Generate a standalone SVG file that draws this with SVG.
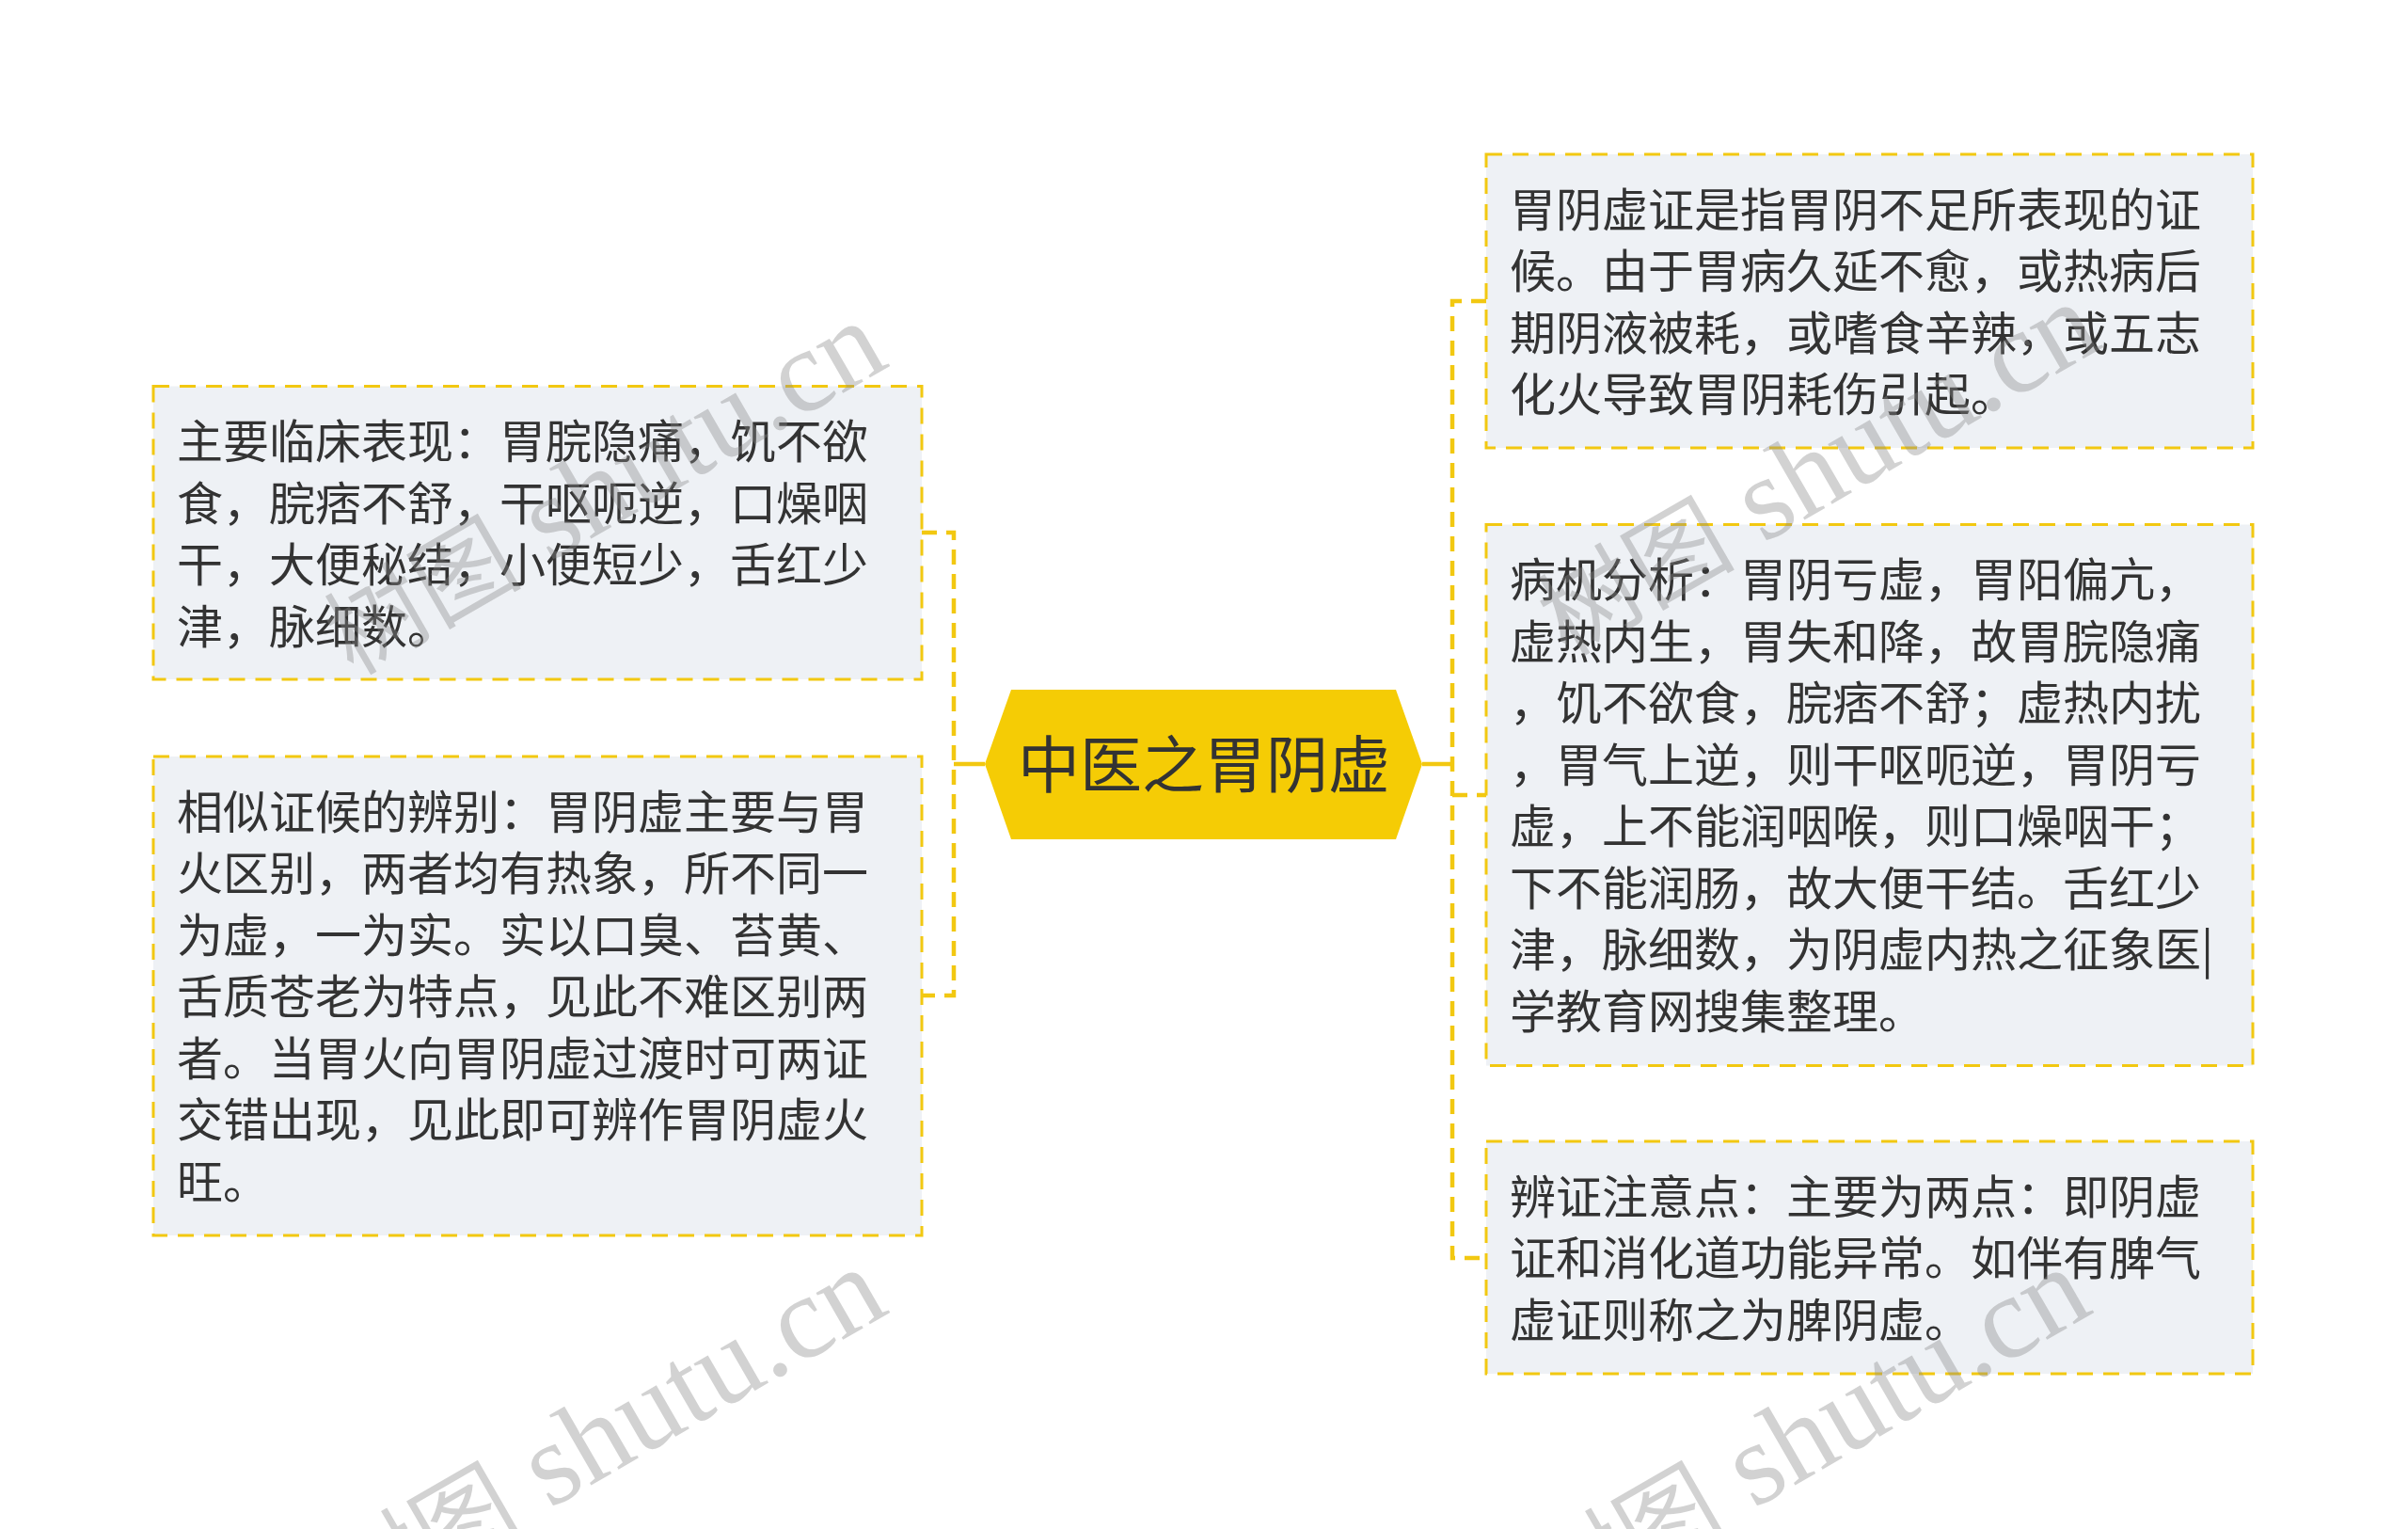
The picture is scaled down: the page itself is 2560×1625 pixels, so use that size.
<svg xmlns="http://www.w3.org/2000/svg" width="2560" height="1625" viewBox="0 0 2560 1625">
<style>
.bg{fill:#ffffff}
.box{fill:#eef1f5;stroke:#f2c811;stroke-width:3;stroke-dasharray:17 11}
.txt{font-family:"Noto Sans CJK SC","Noto Sans",sans-serif;font-size:49px;fill:#333333}
.main{fill:#f5cc05}
.maintxt{font-family:"Noto Sans CJK SC","Noto Sans",sans-serif;font-size:66px;fill:#333333;text-anchor:middle}
.solid{fill:none;stroke:#f2c811;stroke-width:4.5}
.dash{fill:none;stroke:#f2c811;stroke-width:4.5;stroke-dasharray:16 10}
.wm{font-family:"Liberation Serif","Noto Sans CJK SC",serif;font-size:125px;fill:#8a8a8a;fill-opacity:0.38;text-anchor:end}
.wmc{font-size:105px}
</style>
<rect class="bg" x="0" y="0" width="2560" height="1625"/>
<g id="connectors">
<path class="solid" d="M1047,812 H1014"/>
<path class="dash" d="M980,566 H1014 V1058 H980"/>
<path class="solid" d="M1512,812 H1544"/>
<path class="dash" d="M1580,320 H1544 V1337 H1580"/>
<path class="dash" d="M1544,845 H1580"/>
</g>
<g id="center">
<polygon class="main" points="1047,812 1075,733 1484,733 1512,812 1484,892 1075,892"/>
<text class="maintxt" x="1280" y="837">中医之胃阴虚</text>
</g>
<g id="node-left-1">
<rect class="box" x="163" y="410.5" width="817" height="311.5"/>
<text class="txt" x="188" y="487"><tspan x="188">主要临床表现：胃脘隐痛，饥不欲</tspan><tspan x="188" dy="65.5">食，脘痞不舒，干呕呃逆，口燥咽</tspan><tspan x="188" dy="65.5">干，大便秘结，小便短少，舌红少</tspan><tspan x="188" dy="65.5">津，脉细数。</tspan></text>
</g>
<g id="node-left-2">
<rect class="box" x="163" y="804" width="817" height="509"/>
<text class="txt" x="188" y="880.5"><tspan x="188">相似证候的辨别：胃阴虚主要与胃</tspan><tspan x="188" dy="65.5">火区别，两者均有热象，所不同一</tspan><tspan x="188" dy="65.5">为虚，一为实。实以口臭、苔黄、</tspan><tspan x="188" dy="65.5">舌质苍老为特点，见此不难区别两</tspan><tspan x="188" dy="65.5">者。当胃火向胃阴虚过渡时可两证</tspan><tspan x="188" dy="65.5">交错出现，见此即可辨作胃阴虚火</tspan><tspan x="188" dy="65.5">旺。</tspan></text>
</g>
<g id="node-right-1">
<rect class="box" x="1580" y="164" width="815" height="312"/>
<text class="txt" x="1605" y="240.5"><tspan x="1605">胃阴虚证是指胃阴不足所表现的证</tspan><tspan x="1605" dy="65.5">候。由于胃病久延不愈，或热病后</tspan><tspan x="1605" dy="65.5">期阴液被耗，或嗜食辛辣，或五志</tspan><tspan x="1605" dy="65.5">化火导致胃阴耗伤引起。</tspan></text>
</g>
<g id="node-right-2">
<rect class="box" x="1580" y="557.5" width="815" height="575"/>
<text class="txt" x="1605" y="634"><tspan x="1605">病机分析：胃阴亏虚，胃阳偏亢，</tspan><tspan x="1605" dy="65.5">虚热内生，胃失和降，故胃脘隐痛</tspan><tspan x="1605" dy="65.5">，饥不欲食，脘痞不舒；虚热内扰</tspan><tspan x="1605" dy="65.5">，胃气上逆，则干呕呃逆，胃阴亏</tspan><tspan x="1605" dy="65.5">虚，上不能润咽喉，则口燥咽干；</tspan><tspan x="1605" dy="65.5">下不能润肠，故大便干结。舌红少</tspan><tspan x="1605" dy="65.5">津，脉细数，为阴虚内热之征象医|</tspan><tspan x="1605" dy="65.5">学教育网搜集整理。</tspan></text>
</g>
<g id="node-right-3">
<rect class="box" x="1580" y="1213" width="815" height="247"/>
<text class="txt" x="1605" y="1289.5"><tspan x="1605">辨证注意点：主要为两点：即阴虚</tspan><tspan x="1605" dy="65.5">证和消化道功能异常。如伴有脾气</tspan><tspan x="1605" dy="65.5">虚证则称之为脾阴虚。</tspan></text>
</g>
<g id="watermark">
<text class="wm" transform="rotate(-30 948 388)" x="948" y="388"><tspan class="wmc">树图</tspan> shutu.cn</text>
<text class="wm" transform="rotate(-30 948 1394)" x="948" y="1394"><tspan class="wmc">树图</tspan> shutu.cn</text>
<text class="wm" transform="rotate(-30 2238 368)" x="2238" y="368"><tspan class="wmc">树图</tspan> shutu.cn</text>
<text class="wm" transform="rotate(-30 2228 1394)" x="2228" y="1394"><tspan class="wmc">树图</tspan> shutu.cn</text>
</g>
</svg>
